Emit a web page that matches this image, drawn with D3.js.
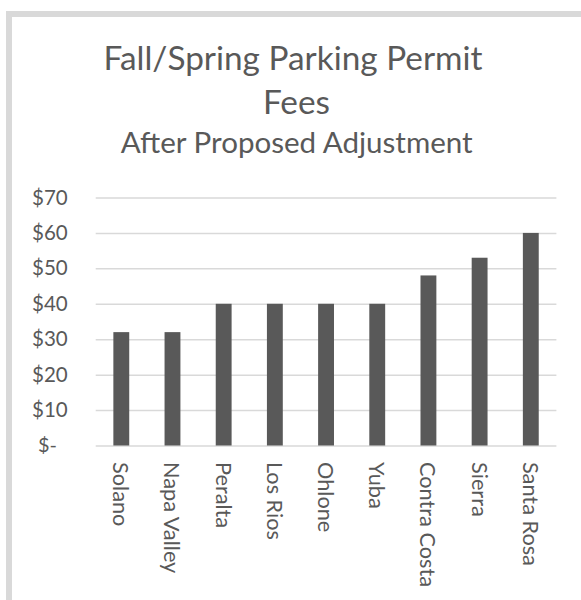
<!DOCTYPE html>
<html>
<head>
<meta charset="utf-8">
<script src="https://cdn.jsdelivr.net/npm/d3@7"></script>
<style>
  html, body { margin: 0; padding: 0; background: #fff; }
  svg { display: block; }
  text { font-family: "Lato", "Open Sans", sans-serif; fill: #595959; }
</style>
</head>
<body>
<svg id="chart" width="581" height="600"></svg>
<script>
const categories = ["Solano", "Napa Valley", "Peralta", "Los Rios", "Ohlone", "Yuba", "Contra Costa", "Sierra", "Santa Rosa"];
const fees = [32, 32, 40, 40, 40, 40, 48, 53, 60];
const yTicks = [0, 10, 20, 30, 40, 50, 60, 70];
const titleLines = ["Fall/Spring Parking Permit", "Fees"];
const subtitle = "After Proposed Adjustment";

const svg = d3.select("#chart");

// frame (top and left bands visible)
svg.append("rect").attr("x", 6).attr("y", 11).attr("width", 575).attr("height", 6).attr("fill", "#d9d9d9");
svg.append("rect").attr("x", 6).attr("y", 11).attr("width", 6).attr("height", 589).attr("fill", "#d9d9d9");

function fit(sel, target, base) {
  sel.style("font-size", base + "px");
  const w = sel.node().getComputedTextLength();
  sel.style("font-size", (base * target / w).toFixed(2) + "px");
}

// title
const t1 = svg.append("text").attr("x", 293).attr("y", 69.5).attr("text-anchor", "middle").text(titleLines[0]);
fit(t1, 379, 30);
const t2 = svg.append("text").attr("x", 296.5).attr("y", 113.5).attr("text-anchor", "middle").text(titleLines[1]).style("font-size", t1.style("font-size"));
const st = svg.append("text").attr("x", 296.7).attr("y", 153).attr("text-anchor", "middle").text(subtitle);
fit(st, 352, 24);

const x = d3.scaleBand().domain(categories).range([95.7, 556.4]).paddingInner(0.69).paddingOuter(0.345);
const y = d3.scaleLinear().domain([0, 70]).range([445.5, 197.5]);

// gridlines
const yAxis = d3.axisLeft(y).tickValues(yTicks).tickSize(-(556.4 - 95.7)).tickPadding(28)
  .tickFormat(d => d === 0 ? "$-" : "$" + d);
const gy = svg.append("g").attr("transform", "translate(95.7,0)").call(yAxis);
gy.select(".domain").remove();
gy.selectAll(".tick line").attr("stroke", "#d9d9d9").attr("stroke-width", 1.5);
gy.selectAll(".tick text").attr("font-family", null).style("fill", "#595959");
gy.selectAll(".tick text").each(function () { fit(d3.select(this), d3.select(this).text() === "$-" ? 19 : 35.7, 19); });
gy.selectAll(".tick text").filter(d => d === 0).attr("x", -38.7);

// bars
svg.append("g").selectAll("rect").data(fees).join("rect")
  .attr("x", (d, i) => x(categories[i]))
  .attr("y", d => y(d))
  .attr("width", x.bandwidth())
  .attr("height", d => y(0) - y(d))
  .attr("fill", "#595959");

// x axis labels
const xAxis = d3.axisBottom(x).tickSize(0).tickPadding(0);
const gx = svg.append("g").attr("transform", "translate(0,445.5)").call(xAxis);
gx.select(".domain").remove();
const lbl = gx.selectAll(".tick text")
  .attr("font-family", null)
  .style("fill", "#595959")
  .attr("y", 0).attr("x", 0).attr("dy", null)
  .attr("text-anchor", "start")
  .attr("dominant-baseline", "central")
  .attr("transform", "translate(0,16.5) rotate(90)");
const cc = lbl.filter(d => d === "Contra Costa");
fit(cc, 125, 19);
lbl.style("font-size", cc.style("font-size"));
</script>
</body>
</html>
